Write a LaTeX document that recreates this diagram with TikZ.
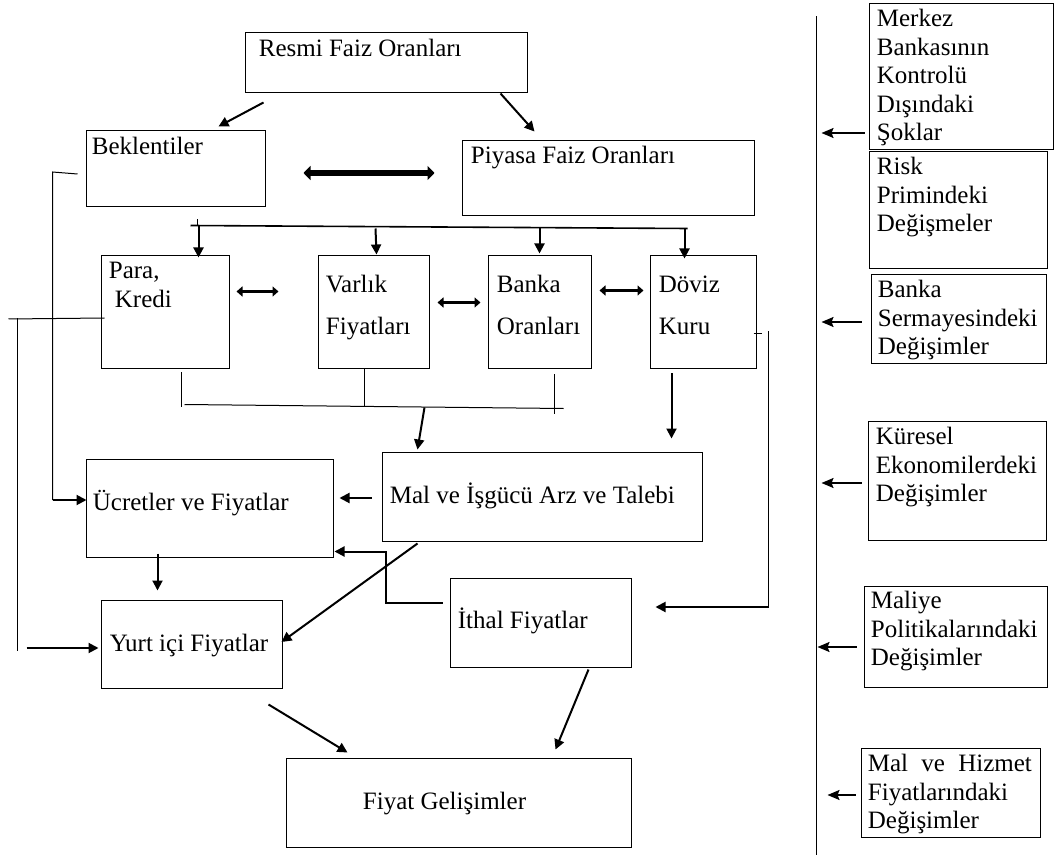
\documentclass[tikz,border=0pt]{standalone}
\usepackage{fontspec}
\setmainfont{Liberation Serif}
\usetikzlibrary{arrows.meta,calc,fit}
\newcommand{\boxlines}[1]{\begin{tabular}[t]{@{}l@{}}#1\end{tabular}}

\begin{document}
\begin{tikzpicture}[x=0.5pt,y=-0.5pt,
    box/.style={draw,inner sep=0pt,line width=0.5pt},
    txt/.style={anchor=base west,inner sep=0pt,font=\fontsize{12.5}{14.3}\selectfont},
    arr/.style={-{Triangle[length=5pt,width=5pt]},line width=1pt},
    thin/.style={line width=0.5pt},
    dbl/.style={{Triangle[length=3pt,width=5pt]}-{Triangle[length=3pt,width=5pt]},line width=1.8pt},
    side/.style={-{Stealth[length=6pt,width=5pt,inset=1pt]},line width=0.8pt}]
    \useasboundingbox (0,0) rectangle (1054,855);
    % boxes
    \node[box,fit={(245,33) (527,93)}] (resmi) {};
    \node[box,fit={(86,131) (265,207)}] (bek) {};
    \node[box,fit={(462,141) (754,216)}] (piyasa) {};
    \node[box,fit={(101,256) (229,369)}] (para) {};
    \node[box,fit={(318,256) (429,369)}] (varlik) {};
    \node[box,fit={(488,256) (591,369)}] (bankaor) {};
    \node[box,fit={(650,256) (756,369)}] (doviz) {};
    \node[box,fit={(382,452) (702,541)}] (mal) {};
    \node[box,fit={(86,459) (333,557)}] (ucret) {};
    \node[box,fit={(101,600) (282,688)}] (yurt) {};
    \node[box,fit={(450,578) (631,667)}] (ithal) {};
    \node[box,fit={(286,758) (631,847)}] (fiyat) {};
    \node[box,fit={(869,4) (1053,150)}] (merkez) {};
    \node[box,fit={(869,152) (1047,269)}] (risk) {};
    \node[box,fit={(871,275) (1046,364)}] (sermaye) {};
    \node[box,fit={(868,421) (1046,540)}] (kuresel) {};
    \node[box,fit={(864,586) (1047,687)}] (maliye) {};
    \node[box,fit={(861,748) (1040,837)}] (hizmet) {};
    % texts
    \node[txt] (resmi-t) at ($(resmi.north west)+(14,24)$) {Resmi Faiz Oranları};
    \node[txt] (bek-t) at ($(bek.north west)+(6,24)$) {Beklentiler};
    \node[txt] (piyasa-t) at ($(piyasa.north west)+(9,23)$) {Piyasa Faiz Oranları};
    \node[txt] (para-t) at ($(para.north west)+(8,23)$) {\boxlines{Para,\\\hspace{3pt}Kredi}};
    \node[txt] (varlik-t) at ($(varlik.north west)+(8,37)$) {\boxlines{Varlık\\[6.7pt]Fiyatları}};
    \node[txt] (bankaor-t) at ($(bankaor.north west)+(9,37)$) {\boxlines{Banka\\[6.7pt]Oranları}};
    \node[txt] (doviz-t) at ($(doviz.north west)+(9,37)$) {\boxlines{Döviz\\[6.7pt]Kuru}};
    \node[txt] (ucret-t) at ($(ucret.north west)+(7,52)$) {Ücretler ve Fiyatlar};
    \node[txt] (mal-t) at ($(mal.north west)+(8,52)$) {Mal ve İşgücü Arz ve Talebi};
    \node[txt] (yurt-t) at ($(yurt.north west)+(9,52)$) {Yurt içi Fiyatlar};
    \node[txt] (ithal-t) at ($(ithal.north west)+(8,51)$) {İthal Fiyatlar};
    \node[txt] (fiyat-t) at ($(fiyat.north west)+(77,52)$) {Fiyat Gelişimler};
    \node[txt] (merkez-t) at ($(merkez.north west)+(8,23)$) {\boxlines{Merkez\\Bankasının\\Kontrolü\\Dışındaki\\Şoklar}};
    \node[txt] (risk-t) at ($(risk.north west)+(8,23)$) {\boxlines{Risk\\Primindeki\\Değişmeler}};
    \node[txt] (sermaye-t) at ($(sermaye.north west)+(7,23)$) {\boxlines{Banka\\Sermayesindeki\\Değişimler}};
    \node[txt] (kuresel-t) at ($(kuresel.north west)+(8,24)$) {\boxlines{Küresel\\Ekonomilerdeki\\Değişimler}};
    \node[txt] (maliye-t) at ($(maliye.north west)+(7,23)$) {\boxlines{Maliye\\Politikalarındaki\\Değişimler}};
    \node[txt] (hizmet-t) at ($(hizmet.north west)+(7,24)$) {\boxlines{\makebox[82pt][s]{Mal ve Hizmet}\\Fiyatlarındaki\\Değişimler}};
    % upper part
    \draw[arr] ($(resmi.south west)+(19,9)$) -- ($(bek.north west)+(133,-4)$);
    \draw[arr] ($(resmi.south east)+(-27,0)$) -- ($(piyasa.north west)+(73,-9)$);
    \draw[{Triangle[length=3.5pt,width=7pt]}-{Triangle[length=3.5pt,width=7pt]},line width=3pt]
        ($(bek.east)+(38,4)$) -- ($(piyasa.west)+(-27,-5.5)$);
    \coordinate (spl) at ($(para.north west)+(90,-30)$);
    \coordinate (spr) at ($(doviz.north west)+(38,-27)$);
    \draw[thin,line width=0.8pt] (spl) -- (spr);
    \draw[thin] ($(para.north west)+(97,-36)$) -- ($(para.north west)+(97,-30)$);
    \draw[arr] ($(para.north west)+(98,-30)$) -- ($(para.north west)+(98,2)$);
    \draw[arr] ($(varlik.north west)+(58,-27)$) -- ($(varlik.north west)+(59,-1)$);
    \draw[arr] ($(bankaor.north west)+(52,-28)$) -- ($(bankaor.north west)+(52,-2)$);
    \draw[arr] ($(doviz.north west)+(35,-27)$) -- ($(doviz.north west)+(35,3)$);
    \draw[dbl] ($(para.north east)+(7,36)$) -- ($(varlik.north west)+(-39,36)$);
    \draw[dbl] ($(varlik.north east)+(8,47)$) -- ($(bankaor.north west)+(-7,47)$);
    \draw[dbl] ($(bankaor.north east)+(8,35)$) -- ($(doviz.north west)+(-6,35)$);
    % collecting line
    \draw[thin] ($(para.south west)+(81,3)$) -- ($(para.south west)+(81,37)$);
    \draw[thin] ($(varlik.south west)+(47,0)$) -- ($(varlik.south west)+(47,36)$);
    \draw[thin] ($(bankaor.south west)+(67,5)$) -- ($(bankaor.south west)+(67,44)$);
    \draw[thin] ($(para.south west)+(84,35)$) -- ($(bankaor.south west)+(76,39)$);
    \draw[arr] ($(mal.north west)+(43,-44)$) -- ($(mal.north west)+(36,-2)$);
    \draw[arr] ($(doviz.south west)+(22,4)$) -- ($(doviz.south west)+(22,69)$);
    \draw[thin] ($(doviz.east)+(-3,21.5)$) -- ($(doviz.east)+(5,21.5)$);
    \draw[thin] ($(doviz.south east)+(12,-38)$) -- ($(ithal.east)+(137,-15.5)$);
    \draw[arr] ($(ithal.east)+(137,-15.5)$) -- ($(ithal.east)+(24,-15.5)$);
    % left side
    \draw[arr] ($(mal.west)+(-10,1.5)$) -- ($(ucret.east)+(6,-10)$);
    \coordinate (bkc) at ($(ucret.west)+(-33,-8)$);
    \draw[thin] ($(bek.west)+(-8,5)$) -- ($(bek.west)+(-33,3)$) -- (bkc);
    \draw[arr] (bkc) -- ($(ucret.west)+(1,-8)$);
    \draw[thin] ($(para.west)+(4,5.5)$) -- ($(para.west)+(-92,6.5)$);
    \draw[thin] ($(para.west)+(-83,6)$) -- ($(yurt.west)+(-83,7)$);
    \draw[arr] ($(yurt.west)+(-74,4)$) -- ($(yurt.west)+(-2,4)$);
    \draw[arr] ($(ucret.south west)+(72,-4)$) -- ($(ucret.south west)+(72,33)$);
    \draw[arr] ($(ithal.west)+(-7,-19.5)$) -- ++(-57,0) |- ($(ucret.south east)+(1,-6)$);
    \draw[arr] ($(mal.south west)+(36,2)$) -- ($(yurt.east)+(-1,-2)$);
    % to price developments
    \draw[arr] ($(yurt.south east)+(-14,16)$) -- ($(fiyat.north west)+(62,-5)$);
    \draw[arr] ($(ithal.south east)+(-43,2)$) -- ($(fiyat.north west)+(270,-8)$);
    % right side
    \coordinate (bus-top) at ($(merkez.north west)+(-52,13)$);
    \coordinate (bus-bot) at ($(hizmet.south west)+(-44,18)$);
    \draw[thin,line width=0.7pt] (bus-top) -- (bus-bot);
    \draw[side] ($(merkez.west)+(-4,56)$) -- ++(-43,0);
    \draw[side] ($(sermaye.west)+(-9,2.5)$) -- ++(-40,0);
    \draw[side] ($(kuresel.west)+(-6,2.5)$) -- ++(-40,0);
    \draw[side] ($(maliye.west)+(-7,10.5)$) -- ++(-39,0);
    \draw[side] ($(hizmet.west)+(-5,2.5)$) -- ++(-28,0);
\end{tikzpicture}
\end{document}
